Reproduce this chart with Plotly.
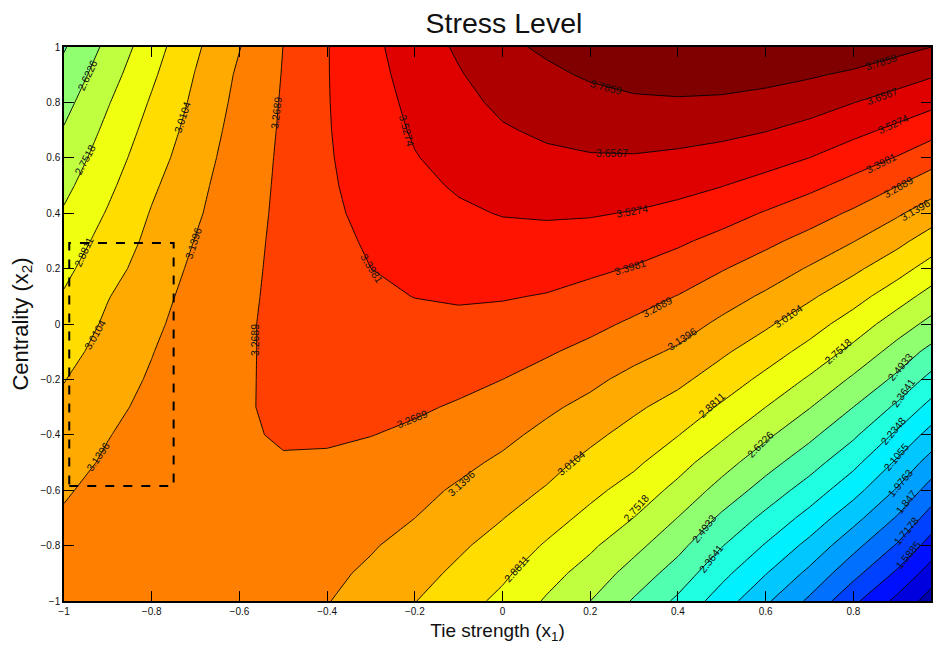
import plotly.graph_objects as go

# grid
x_values = [-1.0, -0.9, -0.8, -0.7, -0.6, -0.5, -0.4, -0.3, -0.2, -0.1, 0.0,
            0.1, 0.2, 0.3, 0.4, 0.5, 0.6, 0.7, 0.8, 0.9, 1.0]
y_values = [-1.0, -0.9, -0.8, -0.7, -0.6, -0.5, -0.4, -0.3, -0.2, -0.1, 0.0,
            0.1, 0.2, 0.3, 0.4, 0.5, 0.6, 0.7, 0.8, 0.9, 1.0]

# stress level per x column, bottom (y=-1) to top (y=1)
z_columns = [
    [3.21, 3.19, 3.17, 3.15, 3.13, 3.098, 3.067, 3.037, 3.006, 2.968, 2.93, 2.892, 2.851, 2.808, 2.765, 2.72, 2.675, 2.631, 2.583, 2.533, 2.483],
    [3.20, 3.195, 3.19, 3.18, 3.17, 3.155, 3.135, 3.11, 3.084, 3.058, 3.031, 3.005, 2.966, 2.929, 2.891, 2.854, 2.817, 2.781, 2.743, 2.699, 2.654],
    [3.205, 3.21, 3.21, 3.21, 3.205, 3.195, 3.185, 3.17, 3.153, 3.135, 3.112, 3.089, 3.065, 3.042, 3.019, 2.99, 2.958, 2.927, 2.895, 2.86, 2.825],
    [3.21, 3.215, 3.22, 3.225, 3.228, 3.23, 3.23, 3.228, 3.222, 3.213, 3.20, 3.185, 3.165, 3.144, 3.123, 3.105, 3.08, 3.059, 3.037, 3.016, 2.99],
    [3.205, 3.215, 3.225, 3.23, 3.24, 3.245, 3.25, 3.255, 3.252, 3.25, 3.25, 3.243, 3.235, 3.228, 3.22, 3.213, 3.205, 3.19, 3.175, 3.16, 3.135],
    [3.185, 3.20, 3.215, 3.23, 3.245, 3.258, 3.283, 3.292, 3.296, 3.298, 3.298, 3.298, 3.298, 3.296, 3.293, 3.29, 3.287, 3.284, 3.28, 3.275, 3.27],
    [3.145, 3.165, 3.19, 3.21, 3.232, 3.253, 3.284, 3.305, 3.32, 3.33, 3.34, 3.35, 3.36, 3.37, 3.378, 3.383, 3.387, 3.39, 3.392, 3.393, 3.393],
    [3.085, 3.12, 3.15, 3.18, 3.205, 3.237, 3.271, 3.295, 3.32, 3.342, 3.36, 3.38, 3.398, 3.41, 3.425, 3.44, 3.455, 3.47, 3.48, 3.49, 3.50],
    [3.014, 3.055, 3.098, 3.14, 3.175, 3.215, 3.25, 3.283, 3.313, 3.34, 3.372, 3.40, 3.425, 3.45, 3.475, 3.50, 3.522, 3.54, 3.555, 3.572, 3.588],
    [2.935, 2.985, 3.03, 3.075, 3.123, 3.17, 3.213, 3.258, 3.296, 3.335, 3.373, 3.41, 3.443, 3.477, 3.51, 3.54, 3.567, 3.594, 3.62, 3.647, 3.675],
    [2.85, 2.905, 2.96, 3.014, 3.066, 3.118, 3.17, 3.22, 3.269, 3.315, 3.361, 3.406, 3.449, 3.491, 3.533, 3.57, 3.608, 3.645, 3.683, 3.72, 3.76],
    [2.738, 2.80, 2.868, 2.935, 3.00, 3.055, 3.107, 3.163, 3.224, 3.282, 3.337, 3.392, 3.442, 3.492, 3.54, 3.587, 3.633, 3.678, 3.72, 3.763, 3.805],
    [2.623, 2.70, 2.774, 2.847, 2.914, 2.976, 3.04, 3.104, 3.17, 3.236, 3.30, 3.36, 3.42, 3.479, 3.537, 3.593, 3.647, 3.698, 3.748, 3.80, 3.85],
    [2.48, 2.57, 2.66, 2.75, 2.83, 2.905, 2.965, 3.032, 3.10, 3.18, 3.249, 3.318, 3.39, 3.456, 3.521, 3.582, 3.648, 3.708, 3.768, 3.825, 3.88],
    [2.34, 2.436, 2.53, 2.62, 2.715, 2.80, 2.885, 2.96, 3.04, 3.12, 3.197, 3.265, 3.343, 3.417, 3.492, 3.564, 3.634, 3.703, 3.772, 3.84, 3.90],
    [2.17, 2.272, 2.37, 2.47, 2.575, 2.675, 2.775, 2.865, 2.95, 3.03, 3.114, 3.196, 3.277, 3.363, 3.448, 3.531, 3.611, 3.689, 3.765, 3.84, 3.915],
    [1.998, 2.111, 2.224, 2.332, 2.44, 2.543, 2.648, 2.752, 2.85, 2.94, 3.03, 3.12, 3.21, 3.298, 3.389, 3.484, 3.575, 3.662, 3.744, 3.825, 3.90],
    [1.823, 1.945, 2.067, 2.19, 2.306, 2.418, 2.523, 2.628, 2.735, 2.84, 2.934, 3.03, 3.128, 3.228, 3.326, 3.428, 3.527, 3.62, 3.71, 3.80, 3.89],
    [1.617, 1.757, 1.886, 2.02, 2.152, 2.27, 2.386, 2.493, 2.602, 2.715, 2.824, 2.93, 3.037, 3.144, 3.25, 3.358, 3.46, 3.562, 3.659, 3.765, 3.87],
    [1.426, 1.567, 1.705, 1.835, 1.963, 2.085, 2.21, 2.34, 2.465, 2.573, 2.687, 2.81, 2.93, 3.045, 3.157, 3.272, 3.391, 3.50, 3.605, 3.713, 3.825],
    [1.227, 1.353, 1.485, 1.614, 1.744, 1.876, 2.015, 2.15, 2.283, 2.42, 2.558, 2.674, 2.801, 2.924, 3.049, 3.177, 3.299, 3.423, 3.545, 3.657, 3.775],
]
z_rows = [list(r) for r in zip(*z_columns)]

level_start = 1.2007
level_step = 0.12926

# first colour is the region under the lowest level, then one per band going up
band_colors = ["#00008F", "#0000AF", "#0000DF", "#0010FF", "#0040FF", "#0070FF", "#00A0FF",
               "#00C8FF", "#00F0FF", "#20FFDF", "#50FFAF", "#90FF70", "#BFFF40",
               "#F0FF10", "#FFDD00", "#FFAA00", "#FF8000", "#FF4000", "#FF1400",
               "#DF0000", "#AF0000", "#800000"]

label_text = ["2.6226", "2.7518", "2.8811", "3.0104", "3.1396", "3.2689", "3.5274", "3.3981",
              "3.0104", "3.2689", "3.1396", "3.2689", "3.1396", "3.1396", "3.0104", "2.7518",
              "2.8811", "3.0104", "2.6226", "2.7518", "2.4933", "2.3641", "2.8811", "2.4933",
              "2.3641", "2.2348", "2.1055", "1.9763", "1.847", "1.7178", "1.5885", "3.7859",
              "3.7859", "3.6567", "3.6567", "3.5274", "3.5274", "3.3981", "3.3981", "3.2689",
              "3.2689", "3.1396"]
label_px = [86.7, 84, 83, 182, 193, 276, 407, 372, 94, 255, 97, 412, 462, 683, 790, 840,
            713, 572, 762, 637, 705, 712, 517, 902, 905, 895, 898, 902, 908, 908, 910, 607,
            883, 613, 884, 895, 633, 883, 631, 900, 658, 917]
label_py = [75, 160, 252, 117, 243, 113, 130, 268, 335, 340, 457, 419, 483, 339, 316, 351,
            405, 463, 444, 508, 529, 559, 569, 367, 393, 431, 457, 483, 502, 531, 555, 87,
            62, 153, 96, 124, 211, 163, 267, 187, 307, 210]
label_angle = [-65, -62, -65, -72, -72, -83, 75, 58, -60, -90, -55, -22, -42, -33, -35, -42,
               -42, -40, -45, -48, -52, -52, -48, -50, -55, -50, -50, -50, -52, -50, -50, 15,
               -17, 0, -20, -25, -10, -27, -17, -30, -28, -30]

n = len(band_colors) - 1
colorscale = []
for k, c in enumerate(band_colors):
    colorscale.append([max(0, (k - 0.5) / n), c])
    colorscale.append([min(1, (k + 0.5) / n), c])

SANS = "Liberation Sans, Arial, sans-serif"

fig = go.Figure(go.Contour(
    x=x_values, y=y_values, z=z_rows,
    colorscale=colorscale, showscale=False,
    contours=dict(start=level_start, end=level_start + (n - 1) * level_step,
                  size=level_step, coloring="fill", showlines=True),
    line=dict(color="black", width=0.9, smoothing=0),
    hoverinfo="skip",
))

annotations = [
    dict(x=(px - 503.3) / 440, y=(324 - py) / 277, xref="x", yref="y", text=t, textangle=a,
         showarrow=False, font=dict(family=SANS, size=10.5, color="#111"))
    for t, px, py, a in zip(label_text, label_px, label_py, label_angle)
]

axis_common = dict(showgrid=False, zeroline=False, ticks="inside", ticklen=10, tickwidth=1,
                   tickcolor="black", showline=True, linecolor="black", linewidth=1.5,
                   mirror="allticks", dtick=0.2,
                   tickfont=dict(family=SANS, size=10, color="#111"))

fig.update_layout(
    width=933, height=650, autosize=False,
    margin=dict(l=64, r=0, t=47, b=48.5),
    paper_bgcolor="white", plot_bgcolor="white",
    title=dict(text="Stress Level", x=504 / 933, xanchor="center", y=0.965, yanchor="middle",
               font=dict(family=SANS, size=28.5, color="#111")),
    xaxis=dict(axis_common, range=[-1, 0.977], tick0=-1,
               title=dict(text="\u00a0\u00a0Tie strength (x<sub>1</sub>)", standoff=8,
                          font=dict(family=SANS, size=19, color="#111"))),
    yaxis=dict(axis_common, range=[-1, 1], tick0=-1,
               title=dict(text="Centrality (x<sub>2</sub>)", standoff=6,
                          font=dict(family=SANS, size=22, color="#111"))),
    annotations=annotations,
    shapes=[dict(type="rect", xref="x", yref="y", x0=-0.988, x1=-0.75, y0=-0.585, y1=0.292,
                 line=dict(color="black", width=2, dash="dash"))],
)

fig.write_html("out.html", post_script="document.body.style.margin='0';",
               config={"displayModeBar": False})
